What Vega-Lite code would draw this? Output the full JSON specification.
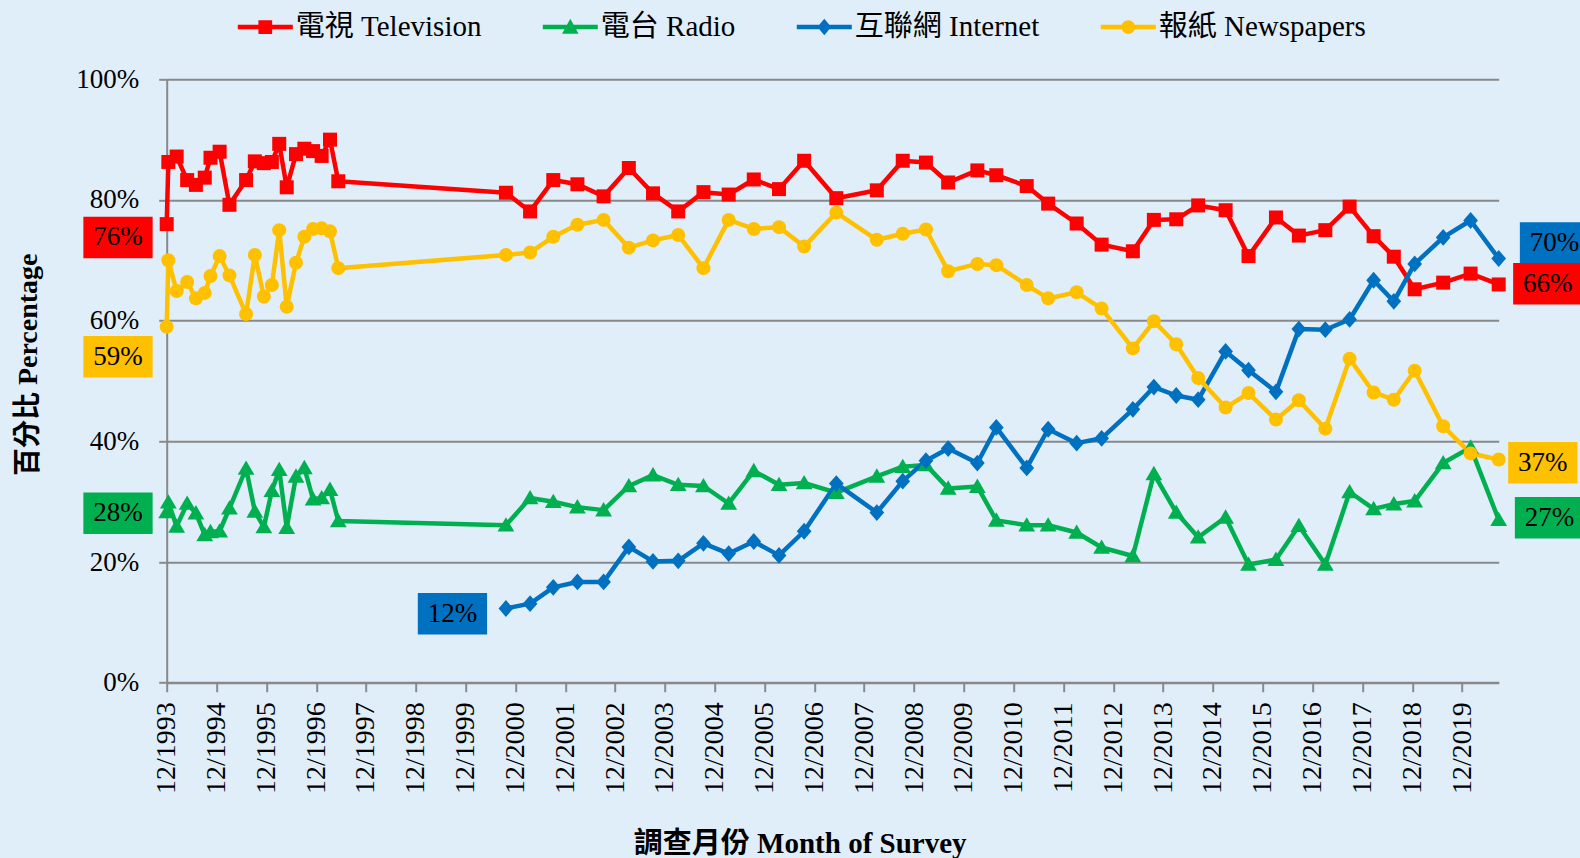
{
  "$schema": "https://vega.github.io/schema/vega-lite/v6.json",
  "width": 1332,
  "height": 603.4,
  "autosize": {"type": "none"},
  "padding": {"left": 166.7, "top": 79.3, "right": 81.3, "bottom": 175.3},
  "background": "#E0EEFA",
  "config": {"view": {"stroke": null}, "font": "Liberation Serif, Noto Sans CJK TC"},
  "datasets": {
    "main": [
      {"series":"TV","date":"1993-12-01","value":76},
      {"series":"TV","date":"1993-12-13","value":86.3},
      {"series":"TV","date":"1994-02-12","value":87.2},
      {"series":"TV","date":"1994-04-30","value":83.3},
      {"series":"TV","date":"1994-07-03","value":82.5},
      {"series":"TV","date":"1994-09-06","value":83.7},
      {"series":"TV","date":"1994-10-18","value":87.0},
      {"series":"TV","date":"1994-12-24","value":88.0},
      {"series":"TV","date":"1995-03-06","value":79.2},
      {"series":"TV","date":"1995-07-06","value":83.3},
      {"series":"TV","date":"1995-09-08","value":86.4},
      {"series":"TV","date":"1995-11-13","value":86.1},
      {"series":"TV","date":"1996-01-11","value":86.3},
      {"series":"TV","date":"1996-03-05","value":89.3},
      {"series":"TV","date":"1996-04-29","value":82.1},
      {"series":"TV","date":"1996-07-06","value":87.6},
      {"series":"TV","date":"1996-09-05","value":88.5},
      {"series":"TV","date":"1996-11-08","value":88.1},
      {"series":"TV","date":"1997-01-10","value":87.3},
      {"series":"TV","date":"1997-03-12","value":90.0},
      {"series":"TV","date":"1997-05-12","value":83.1},
      {"series":"TV","date":"2000-09-22","value":81.2},
      {"series":"TV","date":"2001-03-18","value":78.1},
      {"series":"TV","date":"2001-09-04","value":83.3},
      {"series":"TV","date":"2002-02-28","value":82.6},
      {"series":"TV","date":"2002-09-08","value":80.6},
      {"series":"TV","date":"2003-03-12","value":85.3},
      {"series":"TV","date":"2003-09-05","value":81.1},
      {"series":"TV","date":"2004-03-08","value":78.1},
      {"series":"TV","date":"2004-09-09","value":81.3},
      {"series":"TV","date":"2005-03-13","value":80.9},
      {"series":"TV","date":"2005-09-13","value":83.4},
      {"series":"TV","date":"2006-03-17","value":81.8},
      {"series":"TV","date":"2006-09-17","value":86.5},
      {"series":"TV","date":"2007-05-11","value":80.3},
      {"series":"TV","date":"2008-03-03","value":81.6},
      {"series":"TV","date":"2008-09-09","value":86.5},
      {"series":"TV","date":"2009-02-26","value":86.2},
      {"series":"TV","date":"2009-08-08","value":82.9},
      {"series":"TV","date":"2010-03-10","value":84.9},
      {"series":"TV","date":"2010-07-27","value":84.1},
      {"series":"TV","date":"2011-03-07","value":82.3},
      {"series":"TV","date":"2011-08-11","value":79.4},
      {"series":"TV","date":"2012-03-07","value":76.1},
      {"series":"TV","date":"2012-09-06","value":72.6},
      {"series":"TV","date":"2013-04-23","value":71.5},
      {"series":"TV","date":"2013-09-24","value":76.7},
      {"series":"TV","date":"2014-03-07","value":76.8},
      {"series":"TV","date":"2014-08-15","value":79.1},
      {"series":"TV","date":"2015-03-04","value":78.3},
      {"series":"TV","date":"2015-08-19","value":70.7},
      {"series":"TV","date":"2016-03-07","value":77.1},
      {"series":"TV","date":"2016-08-22","value":74.1},
      {"series":"TV","date":"2017-03-04","value":75.0},
      {"series":"TV","date":"2017-08-29","value":78.9},
      {"series":"TV","date":"2018-02-21","value":74.0},
      {"series":"TV","date":"2018-07-19","value":70.6},
      {"series":"TV","date":"2018-12-19","value":65.2},
      {"series":"TV","date":"2019-07-16","value":66.3},
      {"series":"TV","date":"2020-02-02","value":67.8},
      {"series":"TV","date":"2020-08-26","value":66.0},

      {"series":"Radio","date":"1993-12-01","value":28.3},
      {"series":"Radio","date":"1993-12-13","value":29.9},
      {"series":"Radio","date":"1994-02-12","value":25.9},
      {"series":"Radio","date":"1994-04-30","value":29.7},
      {"series":"Radio","date":"1994-07-03","value":28.1},
      {"series":"Radio","date":"1994-09-06","value":24.5},
      {"series":"Radio","date":"1994-10-18","value":25.0},
      {"series":"Radio","date":"1994-12-24","value":25.1},
      {"series":"Radio","date":"1995-03-06","value":28.9},
      {"series":"Radio","date":"1995-07-06","value":35.5},
      {"series":"Radio","date":"1995-09-08","value":28.4},
      {"series":"Radio","date":"1995-11-13","value":25.8},
      {"series":"Radio","date":"1996-01-11","value":31.8},
      {"series":"Radio","date":"1996-03-05","value":35.3},
      {"series":"Radio","date":"1996-04-29","value":25.7},
      {"series":"Radio","date":"1996-07-06","value":34.2},
      {"series":"Radio","date":"1996-09-05","value":35.6},
      {"series":"Radio","date":"1996-11-08","value":30.4},
      {"series":"Radio","date":"1997-01-10","value":30.6},
      {"series":"Radio","date":"1997-03-12","value":32.0},
      {"series":"Radio","date":"1997-05-12","value":26.8},
      {"series":"Radio","date":"2000-09-22","value":26.1},
      {"series":"Radio","date":"2001-03-18","value":30.6},
      {"series":"Radio","date":"2001-09-04","value":30.0},
      {"series":"Radio","date":"2002-02-28","value":29.1},
      {"series":"Radio","date":"2002-09-08","value":28.6},
      {"series":"Radio","date":"2003-03-12","value":32.6},
      {"series":"Radio","date":"2003-09-05","value":34.4},
      {"series":"Radio","date":"2004-03-08","value":32.8},
      {"series":"Radio","date":"2004-09-09","value":32.6},
      {"series":"Radio","date":"2005-03-13","value":29.7},
      {"series":"Radio","date":"2005-09-13","value":35.1},
      {"series":"Radio","date":"2006-03-17","value":32.8},
      {"series":"Radio","date":"2006-09-17","value":33.1},
      {"series":"Radio","date":"2007-05-11","value":31.5},
      {"series":"Radio","date":"2008-03-03","value":34.2},
      {"series":"Radio","date":"2008-09-09","value":35.8},
      {"series":"Radio","date":"2009-02-26","value":36.1},
      {"series":"Radio","date":"2009-08-08","value":32.2},
      {"series":"Radio","date":"2010-03-10","value":32.5},
      {"series":"Radio","date":"2010-07-27","value":26.9},
      {"series":"Radio","date":"2011-03-07","value":26.1},
      {"series":"Radio","date":"2011-08-11","value":26.1},
      {"series":"Radio","date":"2012-03-07","value":24.9},
      {"series":"Radio","date":"2012-09-06","value":22.4},
      {"series":"Radio","date":"2013-04-23","value":21.0},
      {"series":"Radio","date":"2013-09-24","value":34.6},
      {"series":"Radio","date":"2014-03-07","value":28.2},
      {"series":"Radio","date":"2014-08-15","value":24.1},
      {"series":"Radio","date":"2015-03-04","value":27.4},
      {"series":"Radio","date":"2015-08-19","value":19.6},
      {"series":"Radio","date":"2016-03-07","value":20.4},
      {"series":"Radio","date":"2016-08-22","value":26.0},
      {"series":"Radio","date":"2017-03-04","value":19.6},
      {"series":"Radio","date":"2017-08-29","value":31.6},
      {"series":"Radio","date":"2018-02-21","value":28.8},
      {"series":"Radio","date":"2018-07-19","value":29.6},
      {"series":"Radio","date":"2018-12-19","value":30.1},
      {"series":"Radio","date":"2019-07-16","value":36.4},
      {"series":"Radio","date":"2020-02-02","value":39.0},
      {"series":"Radio","date":"2020-08-26","value":27.0},

      {"series":"Internet","date":"2000-09-22","value":12.3},
      {"series":"Internet","date":"2001-03-18","value":13.1},
      {"series":"Internet","date":"2001-09-04","value":15.8},
      {"series":"Internet","date":"2002-02-28","value":16.7},
      {"series":"Internet","date":"2002-09-08","value":16.7},
      {"series":"Internet","date":"2003-03-12","value":22.5},
      {"series":"Internet","date":"2003-09-05","value":20.1},
      {"series":"Internet","date":"2004-03-08","value":20.2},
      {"series":"Internet","date":"2004-09-09","value":23.1},
      {"series":"Internet","date":"2005-03-13","value":21.4},
      {"series":"Internet","date":"2005-09-13","value":23.4},
      {"series":"Internet","date":"2006-03-17","value":21.1},
      {"series":"Internet","date":"2006-09-17","value":25.1},
      {"series":"Internet","date":"2007-05-11","value":33.0},
      {"series":"Internet","date":"2008-03-03","value":28.2},
      {"series":"Internet","date":"2008-09-09","value":33.4},
      {"series":"Internet","date":"2009-02-26","value":36.8},
      {"series":"Internet","date":"2009-08-08","value":38.8},
      {"series":"Internet","date":"2010-03-10","value":36.4},
      {"series":"Internet","date":"2010-07-27","value":42.3},
      {"series":"Internet","date":"2011-03-07","value":35.6},
      {"series":"Internet","date":"2011-08-11","value":42.0},
      {"series":"Internet","date":"2012-03-07","value":39.7},
      {"series":"Internet","date":"2012-09-06","value":40.5},
      {"series":"Internet","date":"2013-04-23","value":45.3},
      {"series":"Internet","date":"2013-09-24","value":49.0},
      {"series":"Internet","date":"2014-03-07","value":47.6},
      {"series":"Internet","date":"2014-08-15","value":46.9},
      {"series":"Internet","date":"2015-03-04","value":54.9},
      {"series":"Internet","date":"2015-08-19","value":51.8},
      {"series":"Internet","date":"2016-03-07","value":48.2},
      {"series":"Internet","date":"2016-08-22","value":58.6},
      {"series":"Internet","date":"2017-03-04","value":58.5},
      {"series":"Internet","date":"2017-08-29","value":60.2},
      {"series":"Internet","date":"2018-02-21","value":66.7},
      {"series":"Internet","date":"2018-07-19","value":63.2},
      {"series":"Internet","date":"2018-12-19","value":69.4},
      {"series":"Internet","date":"2019-07-16","value":73.8},
      {"series":"Internet","date":"2020-02-02","value":76.6},
      {"series":"Internet","date":"2020-08-26","value":70.3},

      {"series":"News","date":"1993-12-01","value":59.0},
      {"series":"News","date":"1993-12-13","value":70.0},
      {"series":"News","date":"1994-02-12","value":64.9},
      {"series":"News","date":"1994-04-30","value":66.4},
      {"series":"News","date":"1994-07-03","value":63.7},
      {"series":"News","date":"1994-09-06","value":64.6},
      {"series":"News","date":"1994-10-18","value":67.4},
      {"series":"News","date":"1994-12-24","value":70.7},
      {"series":"News","date":"1995-03-06","value":67.5},
      {"series":"News","date":"1995-07-06","value":61.1},
      {"series":"News","date":"1995-09-08","value":70.9},
      {"series":"News","date":"1995-11-13","value":64.0},
      {"series":"News","date":"1996-01-11","value":65.9},
      {"series":"News","date":"1996-03-05","value":75.0},
      {"series":"News","date":"1996-04-29","value":62.3},
      {"series":"News","date":"1996-07-06","value":69.6},
      {"series":"News","date":"1996-09-05","value":73.9},
      {"series":"News","date":"1996-11-08","value":75.2},
      {"series":"News","date":"1997-01-10","value":75.3},
      {"series":"News","date":"1997-03-12","value":74.8},
      {"series":"News","date":"1997-05-12","value":68.7},
      {"series":"News","date":"2000-09-22","value":70.9},
      {"series":"News","date":"2001-03-18","value":71.3},
      {"series":"News","date":"2001-09-04","value":73.9},
      {"series":"News","date":"2002-02-28","value":75.9},
      {"series":"News","date":"2002-09-08","value":76.7},
      {"series":"News","date":"2003-03-12","value":72.1},
      {"series":"News","date":"2003-09-05","value":73.3},
      {"series":"News","date":"2004-03-08","value":74.2},
      {"series":"News","date":"2004-09-09","value":68.7},
      {"series":"News","date":"2005-03-13","value":76.7},
      {"series":"News","date":"2005-09-13","value":75.2},
      {"series":"News","date":"2006-03-17","value":75.5},
      {"series":"News","date":"2006-09-17","value":72.3},
      {"series":"News","date":"2007-05-11","value":77.9},
      {"series":"News","date":"2008-03-03","value":73.4},
      {"series":"News","date":"2008-09-09","value":74.4},
      {"series":"News","date":"2009-02-26","value":75.1},
      {"series":"News","date":"2009-08-08","value":68.2},
      {"series":"News","date":"2010-03-10","value":69.4},
      {"series":"News","date":"2010-07-27","value":69.2},
      {"series":"News","date":"2011-03-07","value":65.9},
      {"series":"News","date":"2011-08-11","value":63.7},
      {"series":"News","date":"2012-03-07","value":64.7},
      {"series":"News","date":"2012-09-06","value":62.0},
      {"series":"News","date":"2013-04-23","value":55.4},
      {"series":"News","date":"2013-09-24","value":59.9},
      {"series":"News","date":"2014-03-07","value":56.1},
      {"series":"News","date":"2014-08-15","value":50.5},
      {"series":"News","date":"2015-03-04","value":45.6},
      {"series":"News","date":"2015-08-19","value":48.0},
      {"series":"News","date":"2016-03-07","value":43.6},
      {"series":"News","date":"2016-08-22","value":46.8},
      {"series":"News","date":"2017-03-04","value":42.1},
      {"series":"News","date":"2017-08-29","value":53.7},
      {"series":"News","date":"2018-02-21","value":48.1},
      {"series":"News","date":"2018-07-19","value":46.9},
      {"series":"News","date":"2018-12-19","value":51.7},
      {"series":"News","date":"2019-07-16","value":42.5},
      {"series":"News","date":"2020-02-02","value":38.0},
      {"series":"News","date":"2020-08-26","value":37.0}
    ],
    "labels": [
      {"series":"TV","date":"1993-12-01","value":76,"label":"76%"},
      {"series":"News","date":"1993-12-01","value":59.0,"label":"59%"},
      {"series":"Radio","date":"1993-12-01","value":28.3,"label":"28%"},
      {"series":"Internet","date":"2000-09-22","value":12.3,"label":"12%"},
      {"series":"Internet","date":"2020-08-26","value":70.3,"label":"70%"},
      {"series":"TV","date":"2020-08-26","value":66.0,"label":"66%"},
      {"series":"News","date":"2020-08-26","value":37.0,"label":"37%"},
      {"series":"Radio","date":"2020-08-26","value":27.0,"label":"27%"}
    ]
  },
  "encoding": {
    "x": {
      "field": "date", "type": "temporal",
      "scale": {"type": "utc", "domain": [{"year":1993,"month":12,"date":1,"utc":true},{"year":2020,"month":8,"date":26,"utc":true}]},
      "axis": {
        "values": [
          {"year":1993,"month":12,"date":1,"utc":true},{"year":1994,"month":12,"date":1,"utc":true},{"year":1995,"month":12,"date":1,"utc":true},
          {"year":1996,"month":12,"date":1,"utc":true},{"year":1997,"month":12,"date":1,"utc":true},{"year":1998,"month":12,"date":1,"utc":true},
          {"year":1999,"month":12,"date":1,"utc":true},{"year":2000,"month":12,"date":1,"utc":true},{"year":2001,"month":12,"date":1,"utc":true},
          {"year":2002,"month":12,"date":1,"utc":true},{"year":2003,"month":12,"date":1,"utc":true},{"year":2004,"month":12,"date":1,"utc":true},
          {"year":2005,"month":12,"date":1,"utc":true},{"year":2006,"month":12,"date":1,"utc":true},{"year":2007,"month":12,"date":1,"utc":true},
          {"year":2008,"month":12,"date":1,"utc":true},{"year":2009,"month":12,"date":1,"utc":true},{"year":2010,"month":12,"date":1,"utc":true},
          {"year":2011,"month":12,"date":1,"utc":true},{"year":2012,"month":12,"date":1,"utc":true},{"year":2013,"month":12,"date":1,"utc":true},
          {"year":2014,"month":12,"date":1,"utc":true},{"year":2015,"month":12,"date":1,"utc":true},{"year":2016,"month":12,"date":1,"utc":true},
          {"year":2017,"month":12,"date":1,"utc":true},{"year":2018,"month":12,"date":1,"utc":true},{"year":2019,"month":12,"date":1,"utc":true}
        ],
        "labelExpr": "utcFormat(datum.value, '%m/%Y')",
        "labelAngle": -90, "labelAlign": "right", "labelBaseline": "middle",
        "labelFont": "Liberation Serif, Noto Sans CJK TC", "labelFontSize": 28, "labelColor": "#000000",
        "labelPadding": 10, "labelOverlap": false, "labelFlush": false, "labelBound": false,
        "tickSize": 9, "tickColor": "#898989", "tickWidth": 2,
        "domainColor": "#898989", "domainWidth": 2, "grid": false,
        "title": "調查月份 Month of Survey",
        "titleFont": "Liberation Serif, Noto Sans CJK TC", "titleFontSize": 29, "titleFontWeight": "bold", "titleColor": "#000000",
        "titleX": 633, "titleY": 170, "titleAlign": "center", "titleBaseline": "alphabetic", "titleAngle": 0
      }
    },
    "y": {
      "field": "value", "type": "quantitative",
      "scale": {"domain": [0, 100], "nice": false, "zero": true},
      "axis": {
        "values": [0, 20, 40, 60, 80, 100],
        "labelExpr": "datum.value + '%'",
        "labelFont": "Liberation Serif, Noto Sans CJK TC", "labelFontSize": 27, "labelColor": "#000000",
        "labelPadding": 20,
        "tickSize": 8, "tickColor": "#898989", "tickWidth": 2,
        "domainColor": "#898989", "domainWidth": 2,
        "grid": true, "gridColor": "#898989", "gridWidth": 2,
        "title": "百分比 Percentage",
        "titleFont": "Liberation Serif, Noto Sans CJK TC", "titleFontSize": 28, "titleFontWeight": "bold", "titleColor": "#000000",
        "titleX": -138.7, "titleY": 285, "titleAngle": -90, "titleAlign": "center", "titleBaseline": "middle"
      }
    }
  },
  "layer": [
    {
      "data": {"name": "main"},
      "transform": [{"filter": "false"}],
      "mark": {"type": "point", "filled": true, "opacity": 1},
      "encoding": {
        "color": {"field": "series", "type": "nominal",
          "scale": {"domain": ["TV", "Radio", "Internet", "News"], "range": ["#FF0000", "#00B050", "#0070C0", "#FFC000"]},
          "legend": {
            "orient": "none", "legendX": 71.1, "legendY": -80, "direction": "horizontal", "title": null,
            "labelFont": "Liberation Serif, Noto Sans CJK TC", "labelFontSize": 29, "labelColor": "#000000", "labelLimit": 500,
            "symbolSize": 3025, "symbolStrokeWidth": 0, "symbolOpacity": 1, "labelOffset": 3, "columnPadding": 61, "padding": 0,
            "labelExpr": "datum.value == 'TV' ? '電視 Television' : datum.value == 'Radio' ? '電台 Radio' : datum.value == 'Internet' ? '互聯網 Internet' : '報紙 Newspapers'"
          }},
        "shape": {"field": "series", "type": "nominal",
          "scale": {"domain": ["TV", "Radio", "Internet", "News"], "range": [
            "M-1,-0.08H1V0.08H-1Z M-0.25,-0.25H0.25V0.25H-0.25Z",
            "M-1,-0.08H1V0.08H-1Z M0,-0.3L0.3,0.24L-0.3,0.24Z",
            "M-1,-0.08H1V0.08H-1Z M0,-0.3L0.25,0L0,0.3L-0.25,0Z",
            "M-1,-0.08H1V0.08H-1Z M-0.25,0A0.25,0.25 0 1,1 0.25,0A0.25,0.25 0 1,1 -0.25,0Z"
          ]},
          "legend": {
            "orient": "none", "legendX": 71.1, "legendY": -80, "direction": "horizontal", "title": null,
            "labelFont": "Liberation Serif, Noto Sans CJK TC", "labelFontSize": 29, "labelColor": "#000000", "labelLimit": 500,
            "symbolSize": 3025, "symbolStrokeWidth": 0, "symbolOpacity": 1, "labelOffset": 3, "columnPadding": 61, "padding": 0,
            "labelExpr": "datum.value == 'TV' ? '電視 Television' : datum.value == 'Radio' ? '電台 Radio' : datum.value == 'Internet' ? '互聯網 Internet' : '報紙 Newspapers'"
          }}
      }
    },
    {
      "data": {"name": "main"},
      "mark": {"type": "line", "strokeWidth": 4.5, "strokeJoin": "round"},
      "encoding": {
        "color": {"field": "series", "type": "nominal",
          "scale": {"domain": ["TV", "Radio", "Internet", "News"], "range": ["#FF0000", "#00B050", "#0070C0", "#FFC000"]}},
        "detail": {"field": "series"}
      }
    },
    {
      "data": {"name": "main"},
      "transform": [{"filter": "datum.series == 'TV'"}],
      "mark": {"type": "point", "filled": true, "opacity": 1, "size": 196, "shape": "M-1,-1H1V1H-1Z"},
      "encoding": {
        "color": {"field": "series", "type": "nominal",
          "scale": {"domain": ["TV", "Radio", "Internet", "News"], "range": ["#FF0000", "#00B050", "#0070C0", "#FFC000"]}}
      }
    },
    {
      "data": {"name": "main"},
      "transform": [{"filter": "datum.series == 'Radio'"}],
      "mark": {"type": "point", "filled": true, "opacity": 1, "size": 196, "shape": "M0,-1.15L1.2,0.9L-1.2,0.9Z"},
      "encoding": {
        "color": {"field": "series", "type": "nominal",
          "scale": {"domain": ["TV", "Radio", "Internet", "News"], "range": ["#FF0000", "#00B050", "#0070C0", "#FFC000"]}}
      }
    },
    {
      "data": {"name": "main"},
      "transform": [{"filter": "datum.series == 'Internet'"}],
      "mark": {"type": "point", "filled": true, "opacity": 1, "size": 196, "shape": "M0,-1.2L1.05,0L0,1.2L-1.05,0Z"},
      "encoding": {
        "color": {"field": "series", "type": "nominal",
          "scale": {"domain": ["TV", "Radio", "Internet", "News"], "range": ["#FF0000", "#00B050", "#0070C0", "#FFC000"]}}
      }
    },
    {
      "data": {"name": "main"},
      "transform": [{"filter": "datum.series == 'News'"}],
      "mark": {"type": "point", "filled": true, "opacity": 1, "size": 196, "shape": "circle"},
      "encoding": {
        "color": {"field": "series", "type": "nominal",
          "scale": {"domain": ["TV", "Radio", "Internet", "News"], "range": ["#FF0000", "#00B050", "#0070C0", "#FFC000"]}}
      }
    },
    {
      "data": {"name": "labels"},
      "transform": [{"filter": "datum.label == '76%'"}],
      "layer": [
        {"mark": {"type": "point", "shape": "M-1,-0.6H1V0.6H-1Z", "size": 4800, "filled": true, "opacity": 1, "color": "#FF0000", "xOffset": -48.7, "yOffset": 13.3}},
        {"mark": {"type": "text", "dx": -48.7, "dy": 13.3, "fontSize": 27, "font": "Liberation Serif", "color": "#000000", "align": "center", "baseline": "middle"}, "encoding": {"text": {"field": "label"}}}
      ]
    },
    {
      "data": {"name": "labels"},
      "transform": [{"filter": "datum.label == '59%'"}],
      "layer": [
        {"mark": {"type": "point", "shape": "M-1,-0.6H1V0.6H-1Z", "size": 4800, "filled": true, "opacity": 1, "color": "#FFC000", "xOffset": -48.7, "yOffset": 30}},
        {"mark": {"type": "text", "dx": -48.7, "dy": 30, "fontSize": 27, "font": "Liberation Serif", "color": "#000000", "align": "center", "baseline": "middle"}, "encoding": {"text": {"field": "label"}}}
      ]
    },
    {
      "data": {"name": "labels"},
      "transform": [{"filter": "datum.label == '28%'"}],
      "layer": [
        {"mark": {"type": "point", "shape": "M-1,-0.6H1V0.6H-1Z", "size": 4800, "filled": true, "opacity": 1, "color": "#00B050", "xOffset": -48.7, "yOffset": 1.4}},
        {"mark": {"type": "text", "dx": -48.7, "dy": 1.4, "fontSize": 27, "font": "Liberation Serif", "color": "#000000", "align": "center", "baseline": "middle"}, "encoding": {"text": {"field": "label"}}}
      ]
    },
    {
      "data": {"name": "labels"},
      "transform": [{"filter": "datum.label == '12%'"}],
      "layer": [
        {"mark": {"type": "point", "shape": "M-1,-0.6H1V0.6H-1Z", "size": 4800, "filled": true, "opacity": 1, "color": "#0070C0", "xOffset": -53.5, "yOffset": 5.2}},
        {"mark": {"type": "text", "dx": -53.5, "dy": 5.2, "fontSize": 27, "font": "Liberation Serif", "color": "#000000", "align": "center", "baseline": "middle"}, "encoding": {"text": {"field": "label"}}}
      ]
    },
    {
      "data": {"name": "labels"},
      "transform": [{"filter": "datum.label == '70%'"}],
      "layer": [
        {"mark": {"type": "point", "shape": "M-1,-0.6H1V0.6H-1Z", "size": 4800, "filled": true, "opacity": 1, "color": "#0070C0", "xOffset": 55.8, "yOffset": -15.5}},
        {"mark": {"type": "text", "dx": 55.8, "dy": -15.5, "fontSize": 27, "font": "Liberation Serif", "color": "#000000", "align": "center", "baseline": "middle"}, "encoding": {"text": {"field": "label"}}}
      ]
    },
    {
      "data": {"name": "labels"},
      "transform": [{"filter": "datum.label == '66%'"}],
      "layer": [
        {"mark": {"type": "point", "shape": "M-1,-0.6H1V0.6H-1Z", "size": 4800, "filled": true, "opacity": 1, "color": "#FF0000", "xOffset": 49.1, "yOffset": -0.7}},
        {"mark": {"type": "text", "dx": 49.1, "dy": -0.7, "fontSize": 27, "font": "Liberation Serif", "color": "#000000", "align": "center", "baseline": "middle"}, "encoding": {"text": {"field": "label"}}}
      ]
    },
    {
      "data": {"name": "labels"},
      "transform": [{"filter": "datum.label == '37%'"}],
      "layer": [
        {"mark": {"type": "point", "shape": "M-1,-0.6H1V0.6H-1Z", "size": 4800, "filled": true, "opacity": 1, "color": "#FFC000", "xOffset": 44.1, "yOffset": 3.3}},
        {"mark": {"type": "text", "dx": 44.1, "dy": 3.3, "fontSize": 27, "font": "Liberation Serif", "color": "#000000", "align": "center", "baseline": "middle"}, "encoding": {"text": {"field": "label"}}}
      ]
    },
    {
      "data": {"name": "labels"},
      "transform": [{"filter": "datum.label == '27%'"}],
      "layer": [
        {"mark": {"type": "point", "shape": "M-1,-0.6H1V0.6H-1Z", "size": 4800, "filled": true, "opacity": 1, "color": "#00B050", "xOffset": 50.8, "yOffset": -2}},
        {"mark": {"type": "text", "dx": 50.8, "dy": -2, "fontSize": 27, "font": "Liberation Serif", "color": "#000000", "align": "center", "baseline": "middle"}, "encoding": {"text": {"field": "label"}}}
      ]
    }
  ]
}
